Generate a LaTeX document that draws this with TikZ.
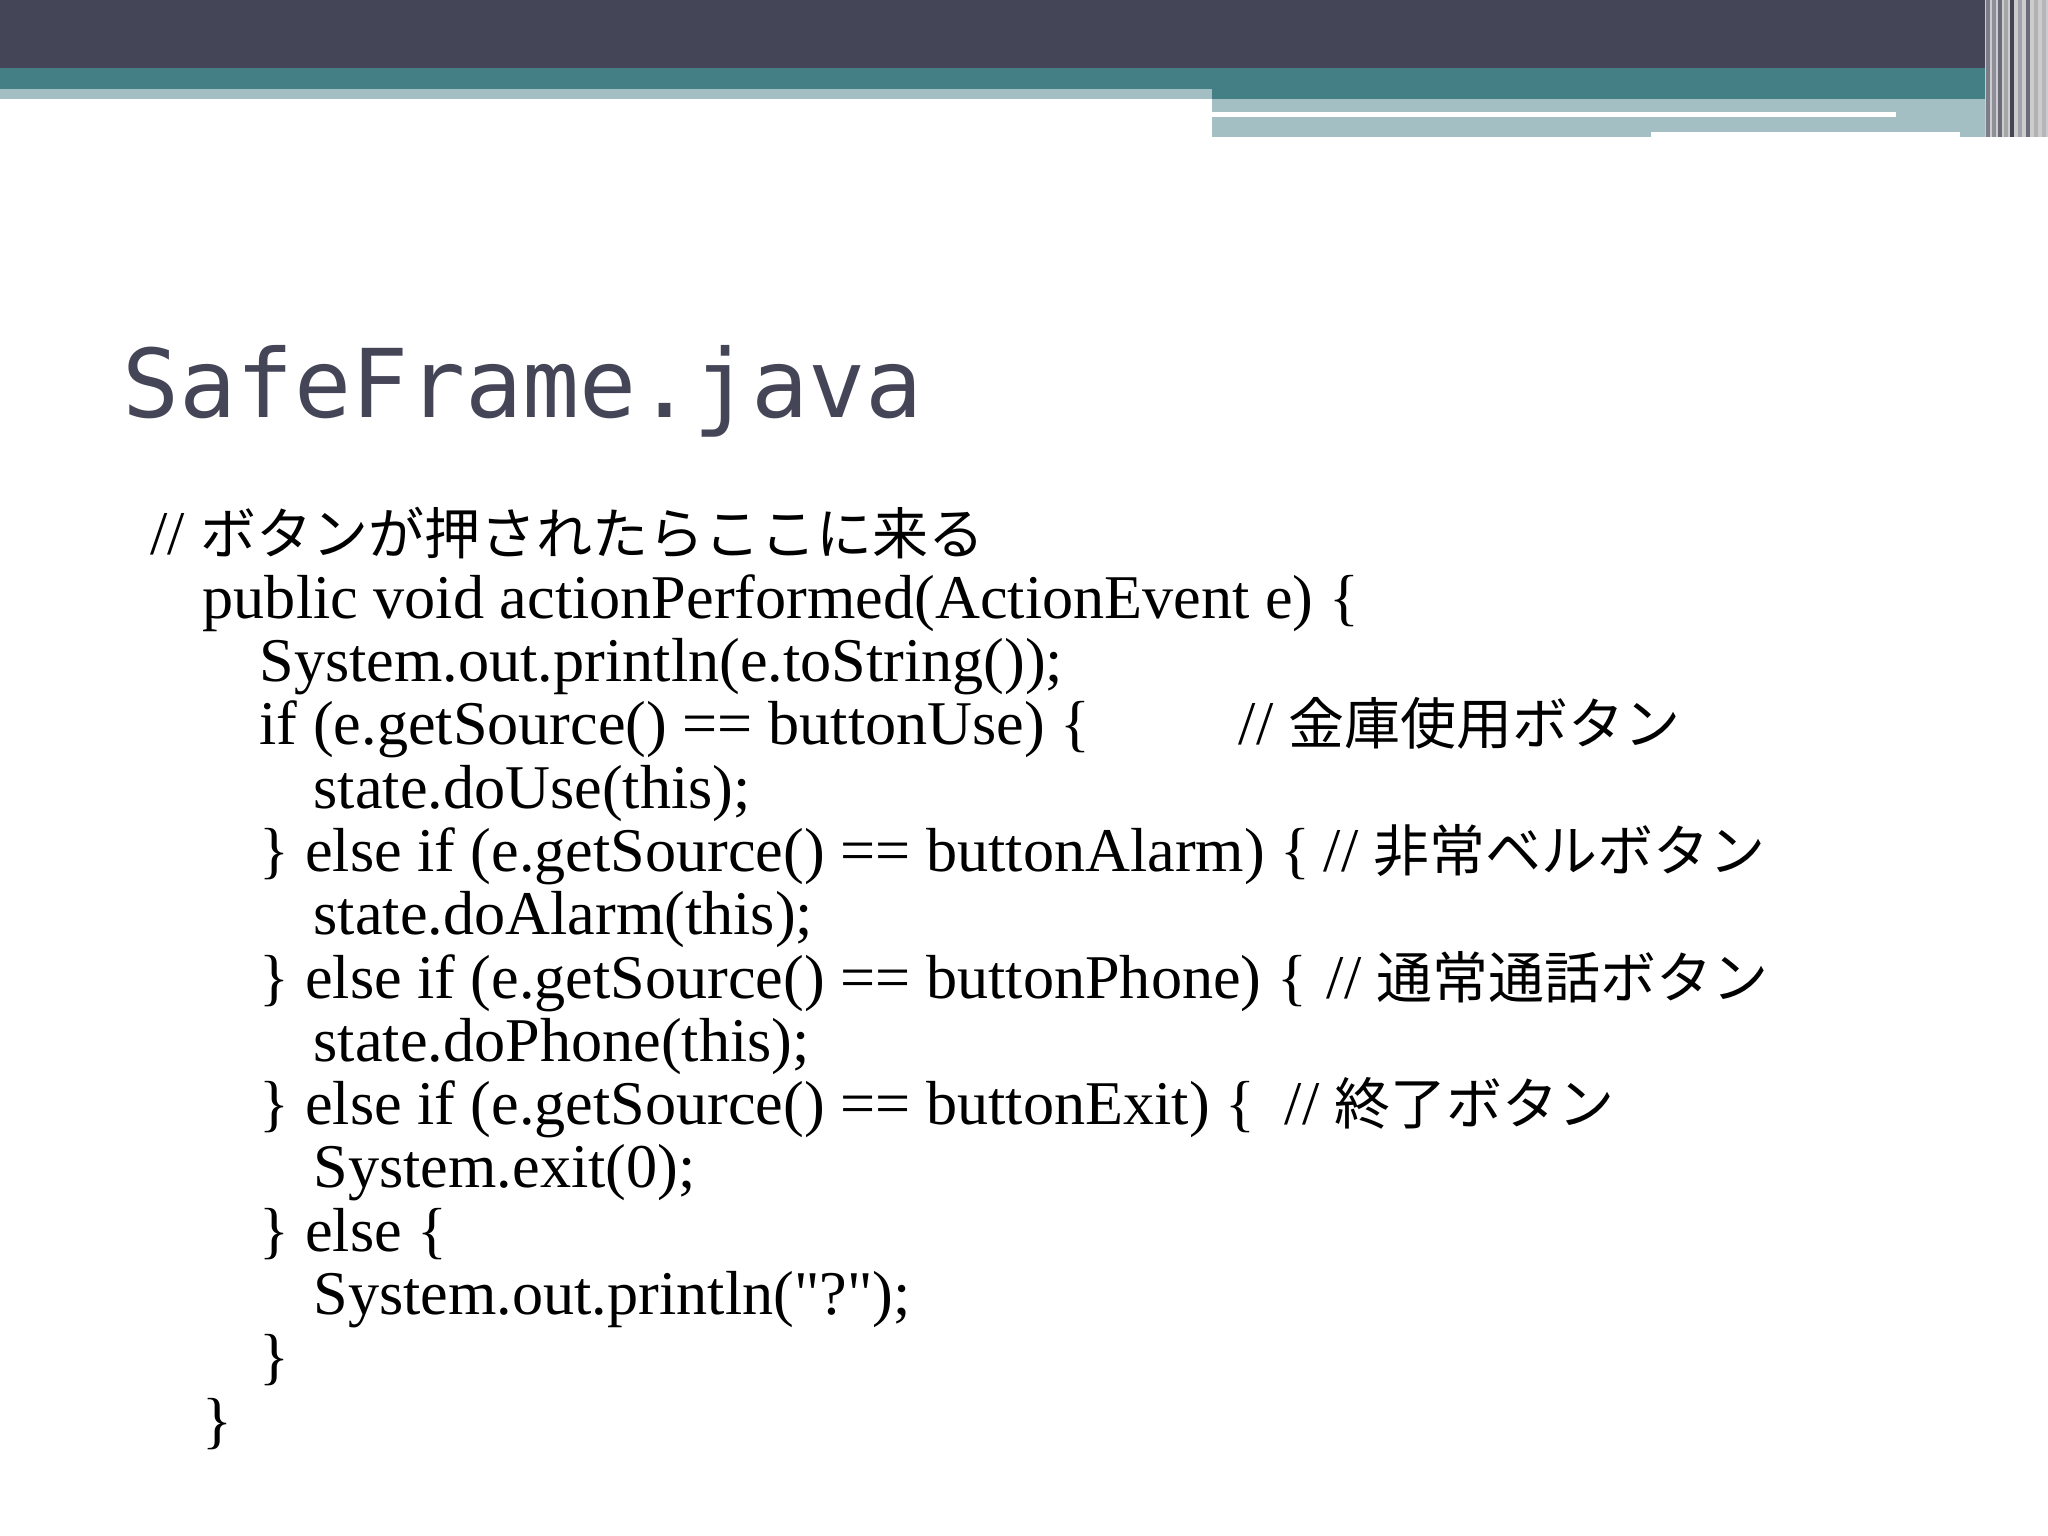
\documentclass[tikz,border=0pt]{standalone}
\usepackage{fontspec}
\setmainfont{Liberation Serif}[Ligatures=TeXOff]
\newfontfamily\cjk{Noto Sans CJK JP}[Scale=0.9]
\newfontfamily\titlefont{DejaVu Sans Mono}
\definecolor{dark}{HTML}{454558}
\definecolor{teal}{HTML}{437F85}
\definecolor{lightb}{HTML}{A3BFC4}
\begin{document}
\begin{tikzpicture}[x=1cm,y=1cm,
  code/.style={anchor=base west,inner sep=0pt,font=\fontsize{17.7}{21}\selectfont}]
\useasboundingbox (0,0) rectangle (20.48,-15.36);
\fill[white] (0,0) rectangle (20.48,-15.36);
% header bars
\fill[dark] (0,0) rectangle (20.48,-0.68);
\fill[teal] (0,-0.68) rectangle (20.48,-0.89);
\fill[lightb] (0,-0.89) rectangle (12.12,-0.99);
\fill[teal] (12.12,-0.89) rectangle (20.48,-0.99);
\fill[lightb] (12.12,-0.99) rectangle (19.85,-1.37);
\fill[white] (12.12,-1.12) rectangle (18.96,-1.17);
\fill[white] (16.51,-1.32) rectangle (19.60,-1.40);
% right vertical stripes
\fill[gray!40] (19.85,0) rectangle (20.48,-1.37);
\foreach \x/\c in {19.86/dark!70,19.92/dark!60,19.98/dark!80,20.04/gray!70,20.10/dark,20.18/dark!50,20.26/dark!80,20.34/gray!60,20.42/dark!40}{
  \fill[\c] (\x,0) rectangle ++(0.04,-1.37);
}
% title
\node[anchor=base west,inner sep=0pt,text=dark,font=\titlefont\fontsize{27}{32}\selectfont] (title) at (1.22,-4.18) {SafeFrame.java};
% code lines
\def\ls{0.633}
\node[code] (l1) at (1.50,-5.55) {// {\cjk ボタンが押されたらここに来る}};
\node[code] (l2) at (2.02,-5.55-\ls) {public void actionPerformed(ActionEvent e) \{};
\node[code] (l3) at (2.59,-5.55-2*\ls) {System.out.println(e.toString());};
\node[code] (l4) at (2.59,-5.55-3*\ls) {if (e.getSource() == buttonUse) \{};
\node[code] (c4) at (12.38,-5.55-3*\ls) {// {\cjk 金庫使用ボタン}};
\node[code] (l5) at (3.13,-5.55-4*\ls) {state.doUse(this);};
\node[code] (l6) at (2.59,-5.55-5*\ls) {\} else if (e.getSource() == buttonAlarm) \{};
\node[code] (c6) at (13.23,-5.55-5*\ls) {// {\cjk 非常ベルボタン}};
\node[code] (l7) at (3.13,-5.55-6*\ls) {state.doAlarm(this);};
\node[code] (l8) at (2.59,-5.55-7*\ls) {\} else if (e.getSource() == buttonPhone) \{};
\node[code] (c8) at (13.26,-5.55-7*\ls) {// {\cjk 通常通話ボタン}};
\node[code] (l9) at (3.13,-5.55-8*\ls) {state.doPhone(this);};
\node[code] (l10) at (2.59,-5.55-9*\ls) {\} else if (e.getSource() == buttonExit) \{};
\node[code] (c10) at (12.84,-5.55-9*\ls) {// {\cjk 終了ボタン}};
\node[code] (l11) at (3.13,-5.55-10*\ls) {System.exit(0);};
\node[code] (l12) at (2.59,-5.55-11*\ls) {\} else \{};
\node[code] (l13) at (3.13,-5.55-12*\ls) {System.out.println("?");};
\node[code] (l14) at (2.59,-5.55-13*\ls) {\}};
\node[code] (l15) at (2.02,-5.55-14*\ls) {\}};
\end{tikzpicture}
\end{document}
